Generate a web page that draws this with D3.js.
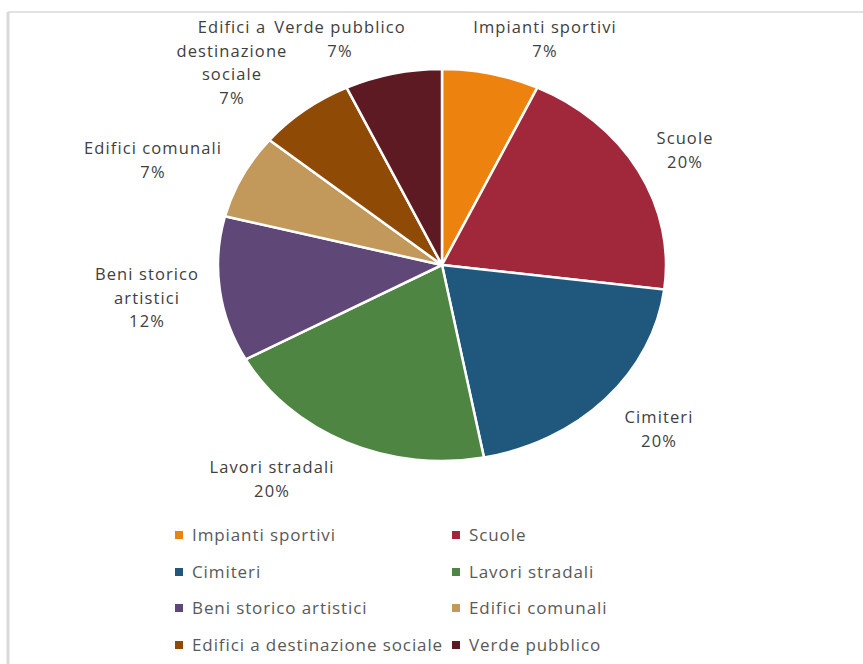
<!DOCTYPE html>
<html>
<head>
<meta charset="utf-8">
<script src="https://cdn.jsdelivr.net/npm/d3@7"></script>
<style>
  body { margin: 0; background: #fff; }
  text { font-family: "Open Sans", "Noto Sans", sans-serif; }
</style>
</head>
<body>
<div class="canvas"></div>
<script>
// data
const categories = ['Impianti sportivi', 'Scuole', 'Cimiteri', 'Lavori stradali',
  'Beni storico artistici', 'Edifici comunali', 'Edifici a destinazione sociale', 'Verde pubblico'];
const values = [7, 20, 20, 20, 12, 7, 7, 7];
const colors = ['#ee820e', '#a0283a', '#1f587c', '#4e8542', '#5f4778', '#c2995b', '#8f4a06', '#5d1a23'];
// label lines as they wrap in the picture
const labelLines = [
  ['Impianti sportivi'], ['Scuole'], ['Cimiteri'], ['Lavori stradali'],
  ['Beni storico', 'artistici'], ['Edifici comunali'], ['Edifici a', 'destinazione', 'sociale'], ['Verde pubblico']
];
// label anchor points (centre of first line)
const labelPos = [[545, 27], [685, 138], [659, 417], [272, 467], [147, 274], [153, 148], [232, 27], [340, 27]];

const width = 863, height = 664;
const cx = 442, cy = 265, ry = 196, rx = 224;

const svg = d3.select('.canvas')
  .append('svg')
  .attr('width', width)
  .attr('height', height);

// chart area border (only top and left visible)
svg.append('line')
  .attr('x1', 8).attr('x2', width).attr('y1', 12).attr('y2', 12)
  .attr('stroke', '#d9d9d9').attr('stroke-width', 1.5);
svg.append('line')
  .attr('x1', 8).attr('x2', 8).attr('y1', 12).attr('y2', height)
  .attr('stroke', '#d9d9d9').attr('stroke-width', 3);

const data = categories.map((c, i) => ({ name: c, value: values[i], color: colors[i], lines: labelLines[i], pos: labelPos[i] }));

const pie = d3.pie().sort(null).value(d => d.value);
const arc = d3.arc().innerRadius(0).outerRadius(ry);

// pie is stretched horizontally in the picture
const graph = svg.append('g')
  .attr('transform', `translate(${cx},${cy}) scale(${rx / ry},1)`);

graph.selectAll('path')
  .data(pie(data))
  .enter()
  .append('path')
    .attr('d', arc)
    .attr('fill', d => d.data.color)
    .attr('stroke', '#fff')
    .attr('stroke-width', 2.5)
    .attr('vector-effect', 'non-scaling-stroke');

// data labels
const labels = svg.append('g')
  .selectAll('text')
  .data(data)
  .enter()
  .append('text')
    .attr('text-anchor', 'middle')
    .attr('fill', '#404040')
    .attr('font-size', 16.5)
    .attr('letter-spacing', 1.1)
    .attr('x', d => d.pos[0])
    .attr('y', d => d.pos[1] + 6);

labels.each(function(d) {
  const t = d3.select(this);
  const lines = d.lines.concat([d.value + '%']);
  lines.forEach((l, i) => {
    t.append('tspan')
      .attr('x', d.pos[0])
      .attr('dy', i === 0 ? 0 : 23.7)
      .text(l);
  });
});

// legend
const legendX = [175, 452], legendY = [535, 572, 608, 645];
const legend = svg.append('g')
  .selectAll('g')
  .data(data)
  .enter()
  .append('g')
    .attr('transform', (d, i) => `translate(${legendX[i % 2]},${legendY[Math.floor(i / 2)]})`);

legend.append('rect')
  .attr('x', 0).attr('y', -4)
  .attr('width', 8).attr('height', 8)
  .attr('fill', d => d.color);

legend.append('text')
  .attr('x', 17)
  .attr('y', 6)
  .attr('fill', '#595959')
  .attr('font-size', 17)
  .attr('letter-spacing', 0.9)
  .text(d => d.name);
</script>
</body>
</html>
